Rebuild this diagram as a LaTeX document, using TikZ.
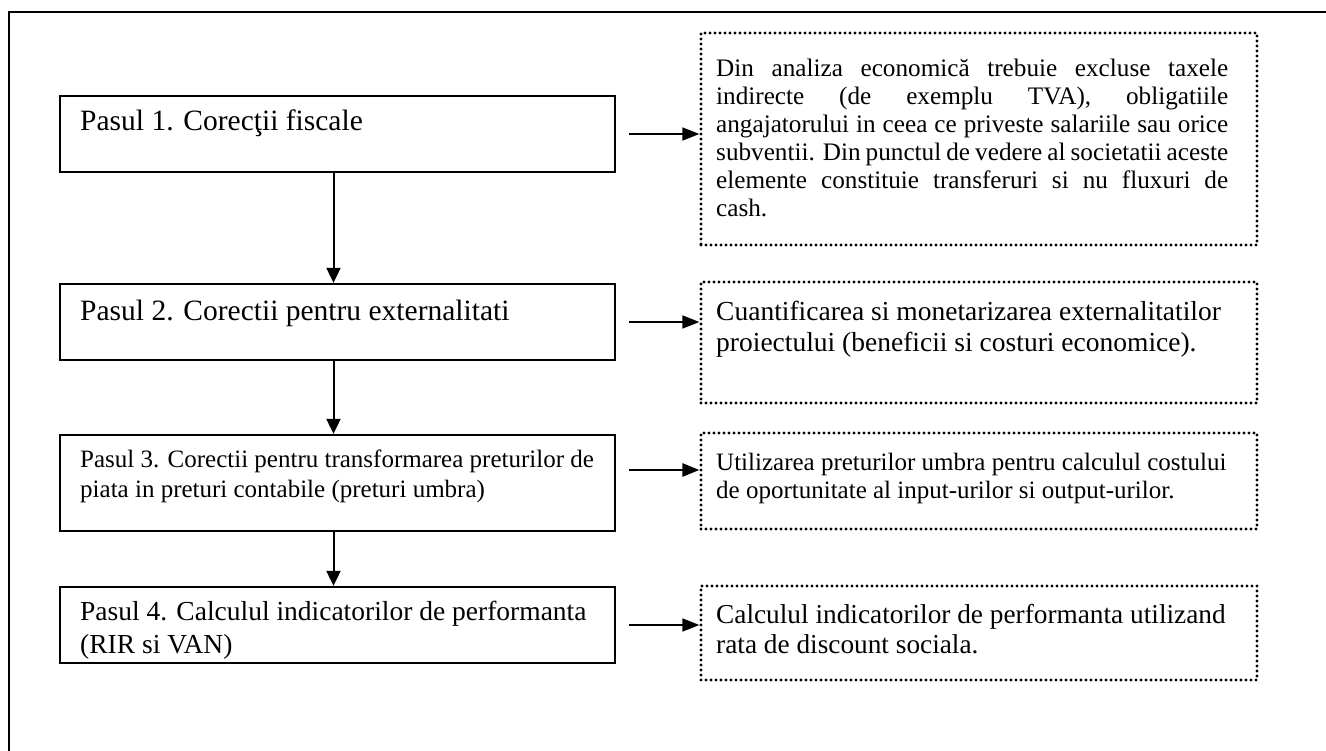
\documentclass[tikz,border=0pt]{standalone}
\usepackage{fontspec}
\setmainfont{Liberation Serif}
\usetikzlibrary{arrows.meta}
\begin{document}
\begin{tikzpicture}[x=1pt,y=-1pt,
  stepbox/.style={draw, line width=2.3pt, inner sep=0pt, minimum width=555pt},
  notebox/.style={draw, line width=3.2pt, dash pattern=on 0pt off 5pt, line cap=round, inner sep=0pt, minimum width=556pt},
  harr/.style={line width=1.6pt, -{Triangle[length=17pt,width=13pt]}},
  varr/.style={line width=2pt, -{Triangle[length=15pt,width=14pt]}},
  txt/.style={inner sep=0pt, anchor=base west},
]
\useasboundingbox (0,0) rectangle (1326,751);
\fill[white] (0,0) rectangle (1326,751);
\draw[line width=2.4pt] (1326,12) -- (9,12) -- (9,751);

% step boxes
\node[stepbox, minimum height=76pt] (b1) at (337.5,134) {};
\node[stepbox, minimum height=76pt] (b2) at (337.5,322) {};
\node[stepbox, minimum height=96pt] (b3) at (337.5,483) {};
\node[stepbox, minimum height=76pt] (b4) at (337.5,625) {};

% note boxes
\node[notebox, minimum height=212pt] (d1) at (979,139) {};
\node[notebox, minimum height=121pt] (d2) at (979,342.5) {};
\node[notebox, minimum height=96pt] (d3) at (979,481) {};
\node[notebox, minimum height=94pt] (d4) at (979,633) {};

% step texts
\node[txt, font=\fontsize{29.5}{33}\selectfont] (t1) at (80,131) {Pasul 1. Corecţii fiscale};
\node[txt, font=\fontsize{29.5}{33}\selectfont] (t2) at (80,321) {Pasul 2. Corectii pentru externalitati};
\node[txt, font=\fontsize{25}{30}\selectfont] (t3) at (80,467) {\parbox[t]{560pt}{Pasul 3. Corectii pentru transformarea preturilor de\\piata in preturi contabile (preturi umbra)}};
\node[txt, font=\fontsize{27.5}{33}\selectfont] (t4) at (80,620) {\parbox[t]{560pt}{Pasul 4. Calculul indicatorilor de performanta\\(RIR si VAN)}};

% note texts
\node[txt, font=\fontsize{25.2}{28}\selectfont] (n1) at (716,77) {\parbox[t]{560pt}{%
\makebox[512pt][s]{Din analiza economică trebuie excluse taxele}\\
\makebox[512pt][s]{indirecte (de exemplu TVA), obligatiile}\\
\makebox[512pt][s]{angajatorului in ceea ce priveste salariile sau orice}\\
\makebox[512pt][s]{subventii. Din punctul de vedere al societatii aceste}\\
\makebox[512pt][s]{elemente constituie transferuri si nu fluxuri de}\\
cash.}};
\node[txt, font=\fontsize{27.5}{31}\selectfont] (n2) at (716,321) {\parbox[t]{560pt}{Cuantificarea si monetarizarea externalitatilor\\proiectului (beneficii si costuri economice).}};
\node[txt, font=\fontsize{25}{28}\selectfont] (n3) at (716,470) {\parbox[t]{560pt}{Utilizarea preturilor umbra pentru calculul costului\\de oportunitate al input-urilor si output-urilor.}};
\node[txt, font=\fontsize{27.3}{30}\selectfont] (n4) at (716,623) {\parbox[t]{560pt}{Calculul indicatorilor de performanta utilizand\\rata de discount sociala.}};

% horizontal arrows
\coordinate (a1) at ([xshift=13pt]b1.east);
\coordinate (a2) at ([xshift=13pt]b2.east);
\coordinate (a3) at ([xshift=13pt,yshift=13pt]b3.east);
\coordinate (a4) at ([xshift=13pt]b4.east);
\draw[harr] (a1) -- (a1 -| d1.west);
\draw[harr] (a2) -- (a2 -| d2.west);
\draw[harr, line width=2.6pt] (a3) -- (a3 -| d3.west);
\draw[harr] (a4) -- (a4 -| d4.west);

% vertical arrows
\draw[varr] ([xshift=-4pt]b1.south) -- ([xshift=-4pt]b2.north);
\draw[varr] ([xshift=-4pt]b2.south) -- ([xshift=-4pt]b3.north);
\draw[varr] ([xshift=-4pt]b3.south) -- ([xshift=-4pt]b4.north);
\end{tikzpicture}
\end{document}
